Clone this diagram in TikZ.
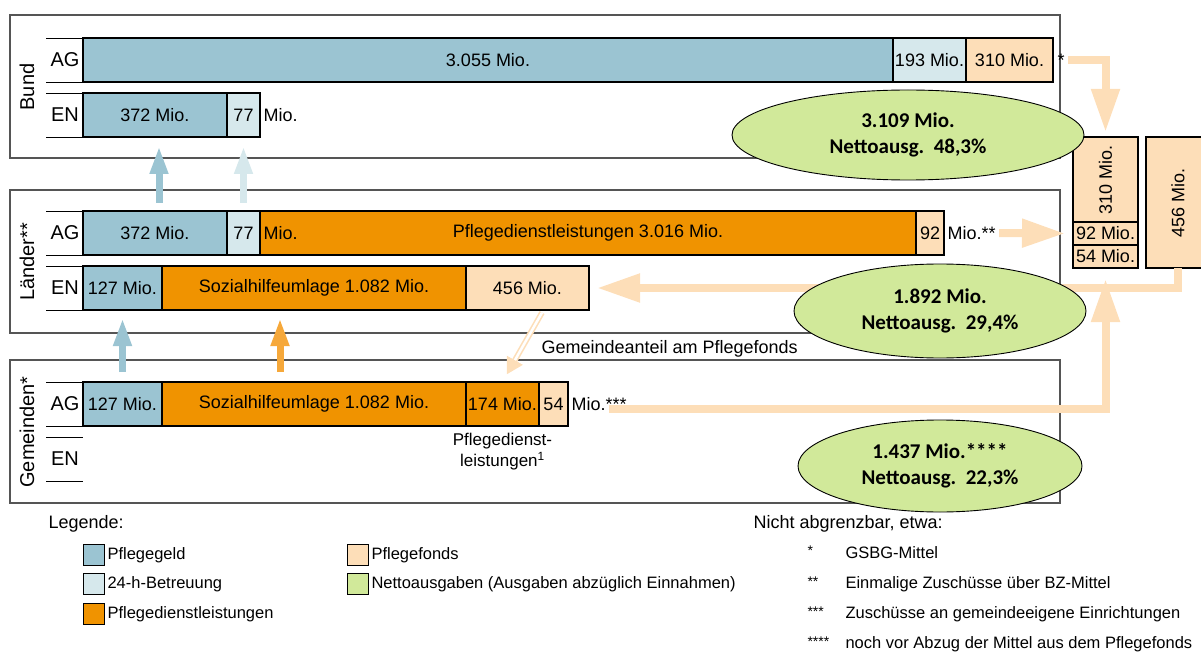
\documentclass[tikz,border=0pt]{standalone}
\usepackage{fontspec}
\usepackage{graphicx}
\setmainfont{Liberation Sans}
\newfontfamily\calibri{Carlito}
\usetikzlibrary{positioning,arrows.meta,shapes.geometric}
\definecolor{pgeld}{HTML}{9BC4D2}
\definecolor{betreu}{HTML}{D6E8EC}
\definecolor{pdienst}{HTML}{F09300}
\definecolor{pfonds}{HTML}{FDDEB8}
\definecolor{netto}{HTML}{D1E99A}
\definecolor{uporange}{HTML}{F6A83A}
\definecolor{frame}{HTML}{555555}
\tikzset{
  seg/.style={draw,line width=1.3pt,minimum height=44pt,inner sep=0pt,outer sep=0pt,anchor=west},
  lvl/.style={draw=frame,line width=1.3pt},
  lvltxt/.style={rotate=90,font=\fontsize{20}{24}\selectfont},
  ell/.style={ellipse,draw,line width=0.9pt,fill=netto,inner sep=0pt,align=center,font=\calibri\bfseries\fontsize{21}{26}\selectfont},
  fonds/.style={draw=pfonds,line width=8pt,-{Triangle[width=27pt,length=43pt]}},
  upar/.style={line width=7pt,-{Triangle[width=17pt,length=28pt]}},
  fbox/.style={draw,fill=pfonds,line width=1.3pt,inner sep=0pt,outer sep=0pt,minimum width=65pt},
  key/.style={draw,line width=1.3pt,minimum size=21pt,inner sep=0pt,anchor=west},
}
\begin{document}
\begin{tikzpicture}[x=1pt,y=-1pt,font=\fontsize{18}{21}\selectfont]
\useasboundingbox (0,0) rectangle (1201,652);
\draw[lvl](10,15)rectangle(1060,158);
\draw[lvl](10,190)rectangle(1060,333);
\draw[lvl](10,360)rectangle(1060,503);
\node[lvltxt](bund)at(27,87){Bund};
\node[lvltxt](laender)at(27,262){Länder**};
\node[lvltxt](gemeinden)at(27,432){Gemeinden*};
\foreach \y/\t in {38/AG,93/EN,211/AG,266/EN,382/AG,437/EN}{
  \draw[line width=0.9pt](46,\y)--(83,\y)(46,\y+44)--(83,\y+44);
  \node[font=\fontsize{20}{24}\selectfont](row\y)at(65,\y+22){\t};}
\node[seg,fill=pgeld,minimum width=810pt](bAG1)at(83,60){3.055 Mio.};
\node[seg,fill=betreu,minimum width=73pt,right=0pt of bAG1](bAG2){193 Mio.};
\node[seg,fill=pfonds,minimum width=87pt,right=0pt of bAG2](bAG3){310 Mio.};
\node[right=1pt of bAG3](bAGstar){*};
\node[seg,fill=pgeld,minimum width=144pt](bEN1)at(83,115){372 Mio.};
\node[seg,fill=betreu,minimum width=33pt,right=0pt of bEN1](bEN2){77};
\node[right=0pt of bEN2](bENmio){Mio.};
\node[seg,fill=pgeld,minimum width=144pt](lAG1)at(83,233){372 Mio.};
\node[seg,fill=betreu,minimum width=33pt,right=0pt of lAG1](lAG2){77};
\node[seg,fill=pdienst,minimum width=656pt,right=0pt of lAG2](lAG3){Pflegedienstleistungen 3.016 Mio.};
\node[anchor=west](lAGmio)at(lAG3.west){Mio.};
\node[seg,fill=pfonds,minimum width=28pt,right=0pt of lAG3](lAG4){92};
\node[right=0pt of lAG4](lAGmio2){Mio.**};
\node[seg,fill=pgeld,minimum width=79pt](lEN1)at(83,288){127 Mio.};
\node[seg,fill=pdienst,minimum width=304pt,right=0pt of lEN1](lEN2){Sozialhilfeumlage 1.082 Mio.};
\node[seg,fill=pfonds,minimum width=123pt,right=0pt of lEN2](lEN3){456 Mio.};
\node[seg,fill=pgeld,minimum width=79pt](gAG1)at(83,404){127 Mio.};
\node[seg,fill=pdienst,minimum width=304pt,right=0pt of gAG1](gAG2){Sozialhilfeumlage 1.082 Mio.};
\node[seg,fill=pdienst,minimum width=73pt,right=0pt of gAG2](gAG3){174 Mio.};
\node[seg,fill=pfonds,minimum width=29pt,right=0pt of gAG3](gAG4){54};
\node[right=0pt of gAG4](gAGmio){Mio.***};
\node[align=center,below=4pt of gAG3,font=\fontsize{17}{21}\selectfont](pdl){Pflegedienst-\\leistungen\textsuperscript{1}};
\node[anchor=west](ganteil)at(538,349){Gemeindeanteil am Pflegefonds};
\node[fbox,minimum height=85pt](f310)at(1105.5,179.5){\rotatebox{90}{310 Mio.}};
\node[fbox,minimum height=23pt,below=0pt of f310](f92){92 Mio.};
\node[fbox,minimum height=23pt,below=0pt of f92](f54){54 Mio.};
\node[fbox,minimum width=64pt,minimum height=131pt](f456)at(1178,202.5){\rotatebox{90}{456 Mio.}};
\draw[fonds,shorten >=5pt](bAGstar.east)-|(f310.north);
\draw[fonds,shorten >=8pt](lAGmio2.east)--(f92.west);
\draw[fonds,shorten >=8pt](f456.south)|-(lEN3.east);
\draw[fonds,shorten >=11pt]([shift={(-21pt,-5pt)}]gAGmio.east)-|(f54.south);
\draw[pfonds,double=white,double distance=2.5pt,line width=1.6pt,shorten <=3pt,shorten >=9pt,-{Triangle[width=18pt,length=16pt]}]([xshift=16pt]lEN3.south)--(gAG3.north);
\draw[upar,pgeld,shorten <=8pt,shorten >=9pt]([xshift=4pt]lAG1.north)--([xshift=4pt]bEN1.south);
\draw[upar,betreu,shorten <=8pt,shorten >=9pt](lAG2.north)--(bEN2.south);
\draw[upar,pgeld,shorten <=10pt,shorten >=8pt](gAG1.north)--(lEN1.south);
\draw[upar,uporange,shorten <=10pt,shorten >=8pt]([xshift=-34pt]gAG2.north)--([xshift=-34pt]lEN2.south);
\node[ell,minimum width=352pt,minimum height=90pt](n1)at(908,135){3.109 Mio.\\Nettoausg.\ \ 48,3\%};
\node[ell,minimum width=292pt,minimum height=94pt](n2)at(940,311){1.892 Mio.\\Nettoausg.\ \ 29,4\%};
\node[ell,minimum width=284pt,minimum height=92pt](n3)at(940,466){1.437 Mio.****\\Nettoausg.\ \ 22,3\%};
\begin{scope}[font=\fontsize{16.5}{20}\selectfont]
\node[anchor=west,font=\fontsize{18}{21}\selectfont](leg)at(45,524){Legende:};
\foreach \y/\c/\t [count=\i] in {555/pgeld/Pflegegeld,584/betreu/24-h-Betreuung,614/pdienst/Pflegedienstleistungen}{
  \node[key,fill=\c](k\i)at(83,\y){};
  \node[anchor=west,inner sep=2pt](kt\i)at(k\i.east){\t};}
\foreach \y/\c/\t [count=\i] in {555/pfonds/Pflegefonds,584/netto/Nettoausgaben (Ausgaben abzüglich Einnahmen)}{
  \node[key,fill=\c](kr\i)at(347,\y){};
  \node[anchor=west,inner sep=2pt](krt\i)at(kr\i.east){\t};}
\node[anchor=west,font=\fontsize{18}{21}\selectfont](nab)at(750,524){Nicht abgrenzbar, etwa:};
\foreach \y/\m/\t [count=\i] in {553/*/GSBG-Mittel,584/**/Einmalige Zuschüsse über BZ-Mittel,614/***/Zuschüsse an gemeindeeigene Einrichtungen,644/****/noch vor Abzug der Mittel aus dem Pflegefonds}{
  \node[anchor=west,font=\fontsize{14}{16}\selectfont](fm\i)at(804,\y-2){\m};
  \node[anchor=west](ft\i)at(842,\y){\t};}
\end{scope}
\end{tikzpicture}
\end{document}
